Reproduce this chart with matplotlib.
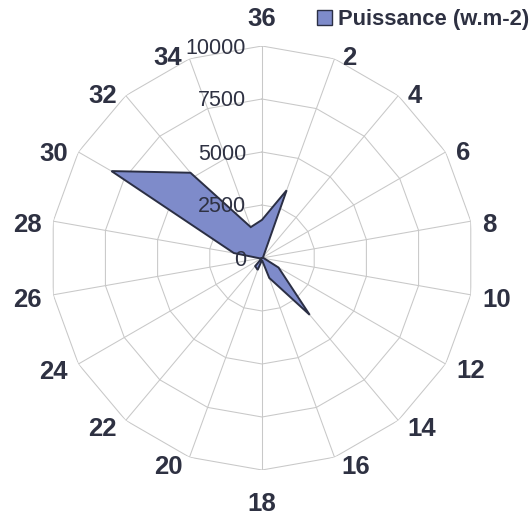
import numpy as np
import matplotlib
matplotlib.use("Agg")
import matplotlib.pyplot as plt
from matplotlib.patches import Patch

# Wind-rose style radar of power per direction sector
directions = ["36", "2", "4", "6", "8", "10", "12", "14", "16",
              "18", "20", "22", "24", "26", "28", "30", "32", "34"]
puissance = [1800, 3400, 100, 50, 50, 100, 900, 3500, 1000,
             100, 600, 500, 0, 100, 1350, 8200, 5250, 1550]
ring_levels = [0, 2500, 5000, 7500, 10000]
ring_labels = ["0", "2500", "5000", "7500", "10000"]
series_name = "Puissance (w.m-2)"

TEXT = "#2e3142"
GRID = "#c8c8c8"
FILL = "#7e8bca"
EDGE = "#2b2f44"

plt.rcParams["font.family"] = ["Liberation Sans", "DejaVu Sans"]

W, H = 530, 515
fig = plt.figure(figsize=(W / 100, H / 100), dpi=100)
cx, cy, R = 262, 258, 212
ax = fig.add_axes([(cx - R) / W, (H - cy - R) / H, 2 * R / W, 2 * R / H],
                  projection="polar")
ax.set_theta_zero_location("N")
ax.set_theta_direction(-1)
ax.set_ylim(0, ring_levels[-1])
ax.grid(False)
ax.set_xticks([])
ax.set_yticks([])
ax.spines["polar"].set_visible(False)
ax.patch.set_visible(False)

n = len(directions)
theta = np.arange(n) * 2 * np.pi / n
theta_closed = np.append(theta, 2 * np.pi)

# polygonal rings and spokes
for lev in ring_levels[1:]:
    ax.plot(theta_closed, [lev] * (n + 1), color=GRID, lw=0.75, zorder=1)
for th in theta:
    ax.plot([th, th], [0, ring_levels[-1]], color=GRID, lw=0.75, zorder=1)

# data polygon
vals = np.append(puissance, puissance[0])
ax.fill(theta_closed, vals, facecolor=FILL, edgecolor=EDGE, lw=1.4,
        zorder=3, label=series_name)

# radial value labels left of the vertical axis
for lev, lab in zip(ring_levels, ring_labels):
    ax.annotate(lab, xy=(0, lev), xytext=(-16, -2), textcoords="offset pixels",
                ha="right", va="center", fontsize=15.5, color=TEXT, zorder=5)

# direction labels outside the outer ring
for th, lab in zip(theta, directions):
    s, c = np.sin(th), np.cos(th)
    if abs(s) < 1e-6:
        dx = 0
        dy = 30 if c > 0 else -31
        ha = "center"
    else:
        gap = 5 + 6.5 * abs(s)
        dx = gap if s > 0 else -gap
        ha = "left" if s > 0 else "right"
        dy = -(1.5 - 6 * c)
    ax.annotate(lab, xy=(th, ring_levels[-1]), xytext=(dx, dy - 3),
                textcoords="offset pixels", ha=ha, va="center",
                fontsize=18.5, fontweight="bold", color=TEXT,
                annotation_clip=False)

handle = Patch(facecolor=FILL, edgecolor=EDGE, lw=1.0)
fig.legend([handle], [series_name], loc="upper right",
           bbox_to_anchor=(1.024, 1.008), frameon=False, borderpad=0.1,
           handlelength=0.65, handleheight=0.65, handletextpad=0.3,
           prop={"size": 15.8, "weight": "bold"}, labelcolor=TEXT)

fig.savefig("out.png", dpi=100, facecolor="white")
